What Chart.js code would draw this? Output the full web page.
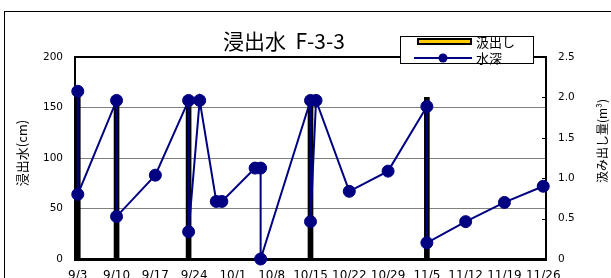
<!DOCTYPE html>
<html>
<head>
<meta charset="utf-8">
<script src="https://cdn.jsdelivr.net/npm/chart.js@4/dist/chart.umd.min.js"></script>
<style>
  body { margin: 0; background: #fff; }
  canvas { display: block; }
</style>
</head>
<body>
<canvas id="chart" width="611" height="278"></canvas>
<script>
const tickLabels = ['9/3', '9/10', '9/17', '9/24', '10/1', '10/8', '10/15', '10/22', '10/29', '11/5', '11/12', '11/19', '11/26'];

// 水深 (cm), left axis
const depthDates = ['9/3', '9/3', '9/10', '9/10', '9/17', '9/23', '9/23', '9/25', '9/28', '9/29', '10/5', '10/6', '10/6',
    '10/15', '10/15', '10/16', '10/22', '10/29', '11/5', '11/5', '11/12', '11/19', '11/26'];
const depthValues = [166, 64, 157, 42, 83, 157, 27, 157, 57, 57, 90, 90, 0,
    157, 37, 157, 67, 87, 151, 16, 37, 56, 72];

// 汲出し (m3), right axis
const pumpDates = ['9/3', '9/10', '9/23', '10/15', '11/5'];
const pumpValues = [2, 2, 2, 2, 2];

const numFont = "'DejaVu Sans', sans-serif";
const jpFont = "'Noto Sans CJK JP', sans-serif";
// the bars are so thin only their black edge shows; legend swatch keeps the yellow
const pumpFill = '#FFCC00';

// days counted from 9/3
function dayOf(label) {
    const parts = label.split('/');
    const d = new Date(2009, parseInt(parts[0]) - 1, parseInt(parts[1]));
    const start = new Date(2009, 8, 3);
    return Math.round((d - start) / 86400000);
}

function toPoints(dates, values) {
    return dates.map((d, i) => ({x: dayOf(d), y: values[i]}));
}

function drawVertical(ctx, text, x, y, font) {
    ctx.save();
    ctx.translate(x, y);
    ctx.rotate(-Math.PI / 2);
    ctx.font = font;
    ctx.textAlign = 'center';
    ctx.textBaseline = 'middle';
    ctx.fillStyle = '#000';
    ctx.fillText(text, 0, 0);
    ctx.restore();
}

const decorations = {
    id: 'decorations',
    beforeDraw(chart) {
        const ctx = chart.ctx;
        ctx.save();
        ctx.fillStyle = '#fff';
        ctx.fillRect(0, 0, chart.width, chart.height);
        ctx.strokeStyle = '#000';
        ctx.lineWidth = 1;
        ctx.strokeRect(4.5, 11.5, chart.width + 20, chart.height + 20);
        ctx.restore();
    },
    afterDraw(chart) {
        const ctx = chart.ctx;
        const area = chart.chartArea;
        ctx.save();

        ctx.fillStyle = '#000';
        ctx.font = '21px ' + jpFont;
        ctx.textAlign = 'center';
        ctx.textBaseline = 'middle';
        ctx.fillText('浸出水  F-3-3', 284, 41);

        drawVertical(ctx, '浸出水(cm)', 22, 153, '13px ' + jpFont);
        drawVertical(ctx, '汲み出し量(m³)', 602, 141, '12px ' + jpFont);

        // short inside ticks on the right axis
        const y2 = chart.scales.y2;
        ctx.strokeStyle = '#000';
        ctx.lineWidth = 1;
        y2.ticks.forEach(t => {
            const y = Math.round(y2.getPixelForValue(t.value)) + 0.5;
            ctx.beginPath();
            ctx.moveTo(area.right - 4, y);
            ctx.lineTo(area.right, y);
            ctx.stroke();
        });

        // legend box
        const line = chart.data.datasets[0];
        const bar = chart.data.datasets[1];
        ctx.fillStyle = '#fff';
        ctx.fillRect(400, 36, 134, 28);
        ctx.strokeStyle = '#000';
        ctx.lineWidth = 1;
        ctx.strokeRect(400.5, 36.5, 133, 27);

        ctx.fillStyle = pumpFill;
        ctx.fillRect(418, 39, 53, 5);
        ctx.strokeStyle = '#000';
        ctx.lineWidth = 2;
        ctx.strokeRect(418, 39, 53, 5);

        ctx.strokeStyle = line.borderColor;
        ctx.lineWidth = 2;
        ctx.beginPath();
        ctx.moveTo(414, 58);
        ctx.lineTo(472, 58);
        ctx.stroke();
        ctx.fillStyle = line.backgroundColor;
        ctx.beginPath();
        ctx.arc(443, 58, 4.5, 0, Math.PI * 2);
        ctx.fill();

        ctx.fillStyle = '#000';
        ctx.font = '13px ' + jpFont;
        ctx.textAlign = 'left';
        ctx.fillText(bar.label, 476, 42);
        ctx.fillText(line.label, 476, 58);

        ctx.restore();
    }
};

new Chart(document.getElementById('chart'), {
    type: 'line',
    data: {
        datasets: [
            {
                type: 'line',
                label: '水深',
                data: toPoints(depthDates, depthValues),
                yAxisID: 'y',
                borderColor: '#000080',
                backgroundColor: '#000080',
                borderWidth: 2,
                pointRadius: 6,
                pointBorderWidth: 1,
                tension: 0,
                clip: false,
                order: 0
            },
            {
                type: 'bar',
                label: '汲出し',
                data: toPoints(pumpDates, pumpValues),
                yAxisID: 'y2',
                backgroundColor: '#000',
                borderWidth: 0,
                barThickness: 5,
                order: 1
            }
        ]
    },
    options: {
        responsive: false,
        animation: false,
        devicePixelRatio: 1,
        layout: {padding: {top: 57, left: 0, right: 0, bottom: 0}},
        plugins: {
            legend: {display: false},
            title: {display: false},
            tooltip: {enabled: false}
        },
        scales: {
            x: {
                type: 'linear',
                min: -0.5,
                max: 84.5,
                offset: false,
                grid: {display: false, drawTicks: false, offset: false},
                border: {color: '#000', width: 3},
                ticks: {
                    autoSkip: false,
                    maxRotation: 0,
                    padding: 10,
                    color: '#000',
                    font: {family: numFont, size: 12},
                    callback: value => tickLabels.find(l => dayOf(l) === value)
                },
                afterBuildTicks: scale => {
                    scale.ticks = tickLabels.map(l => ({value: dayOf(l)}));
                },
                afterFit: scale => { scale.height = 19; }
            },
            y: {
                position: 'left',
                min: 0,
                max: 200,
                grid: {
                    drawTicks: false,
                    color: ctx => ctx.tick.value === 200 ? '#000' : (ctx.tick.value === 0 ? 'rgba(0,0,0,0)' : '#808080'),
                    lineWidth: ctx => ctx.tick.value === 200 ? 2 : 1
                },
                border: {color: '#000', width: 2},
                ticks: {
                    stepSize: 50,
                    padding: 12,
                    color: '#000',
                    font: {family: numFont, size: 10.5}
                },
                afterFit: scale => { scale.width = 75; }
            },
            y2: {
                position: 'right',
                min: 0,
                max: 2.5,
                grid: {display: false, drawTicks: false},
                border: {display: true, color: '#000', width: 2},
                ticks: {
                    stepSize: 0.5,
                    padding: 12,
                    color: '#000',
                    font: {family: numFont, size: 10.5}
                },
                afterFit: scale => { scale.width = 65; }
            }
        }
    },
    plugins: [decorations]
});
</script>
</body>
</html>
